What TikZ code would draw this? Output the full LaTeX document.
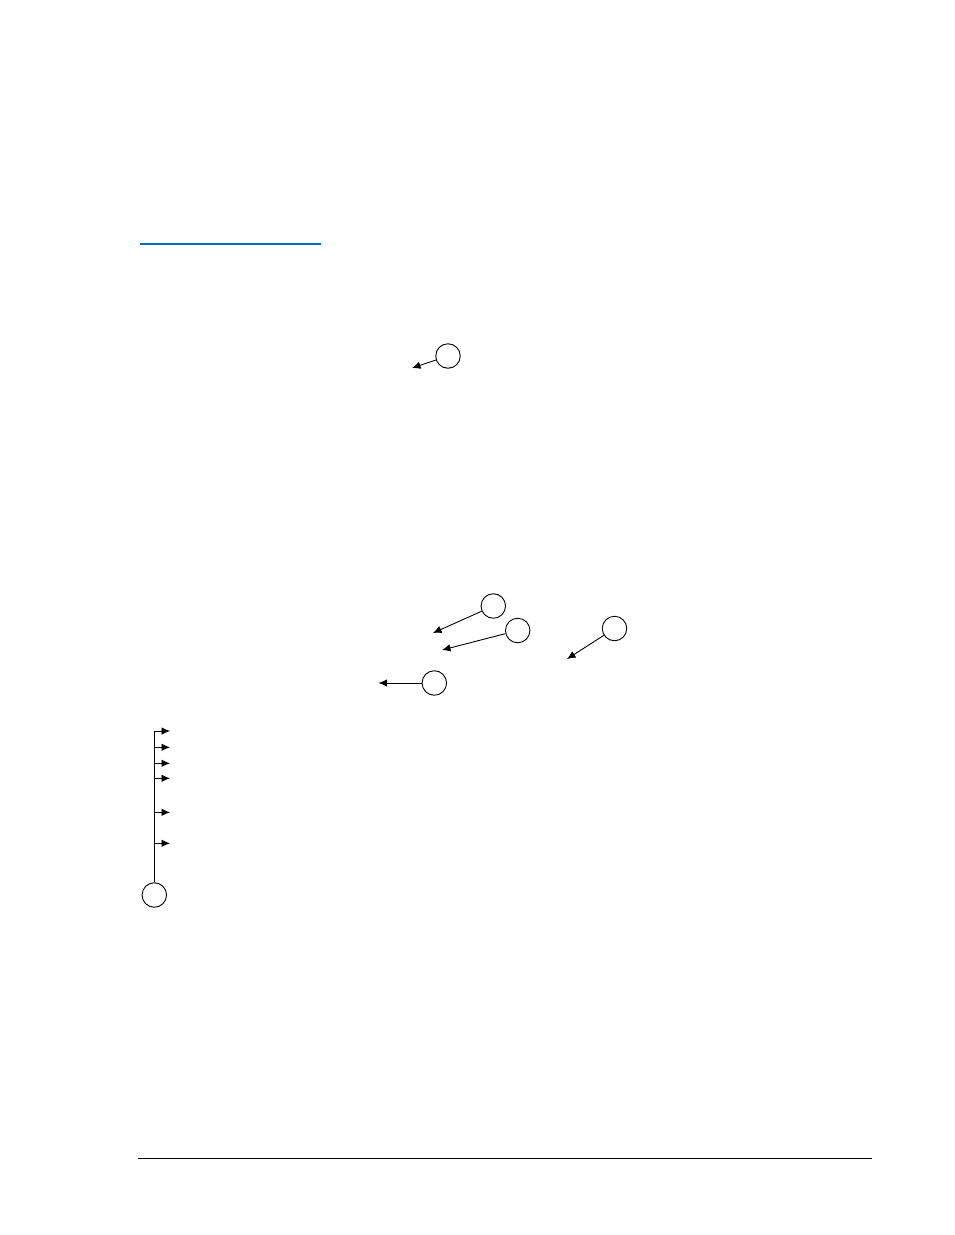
\documentclass[tikz,border=0pt]{standalone}
\usetikzlibrary{arrows.meta}
\definecolor{linkblue}{RGB}{0,112,192}
\begin{document}
\begin{tikzpicture}[x=1pt,y=-1pt,
  callout/.style={circle,draw,line width=0.9pt,minimum size=24.5pt,inner sep=0pt},
  ptr/.style={line width=0.9pt,-{Latex[length=8.5pt,width=7.5pt]}},
  rule/.style={line width=1pt}]
\useasboundingbox (0,0) rectangle (954,1235);
% blue link underline
\coordinate (b1) at (140,244);
\coordinate (b2) at (321,244);
\draw[linkblue,line width=1.3pt] (b1) -- (b2);
% callout 1
\node[callout] (c1) at (448,356) {};
\coordinate (t1) at (412,368);
\draw[ptr] (c1) -- (t1);
% group of callouts
\node[callout] (ca) at (493.3,606) {};
\coordinate (ta) at (433,633);
\draw[ptr] (ca) -- (ta);
\node[callout] (cb) at (517.7,630.5) {};
\coordinate (tb) at (442,650);
\draw[ptr] (cb) -- (tb);
\node[callout] (cc) at (614.5,628.5) {};
\coordinate (tc) at (567,659);
\draw[ptr] (cc) -- (tc);
\node[callout] (cd) at (434.3,683) {};
\coordinate (td) at (378.5,683);
\draw[ptr] (cd) -- (td);
% bus callout
\node[callout] (ce) at (154.3,895) {};
\coordinate (top) at (154.3,731);
\draw[line width=0.9pt] (ce) -- (top);
\foreach \yy/\nm in {731/p1,747.3/p2,763.3/p3,778.3/p4,812.3/p5,843.3/p6}{
  \coordinate (s\nm) at (154.3,\yy);
  \coordinate (e\nm) at (170,\yy);
  \draw[ptr] (s\nm) -- (e\nm);
}
% footer rule
\coordinate (f1) at (138,1158.5);
\coordinate (f2) at (872,1158.5);
\draw[rule] (f1) -- (f2);
\end{tikzpicture}
\end{document}
